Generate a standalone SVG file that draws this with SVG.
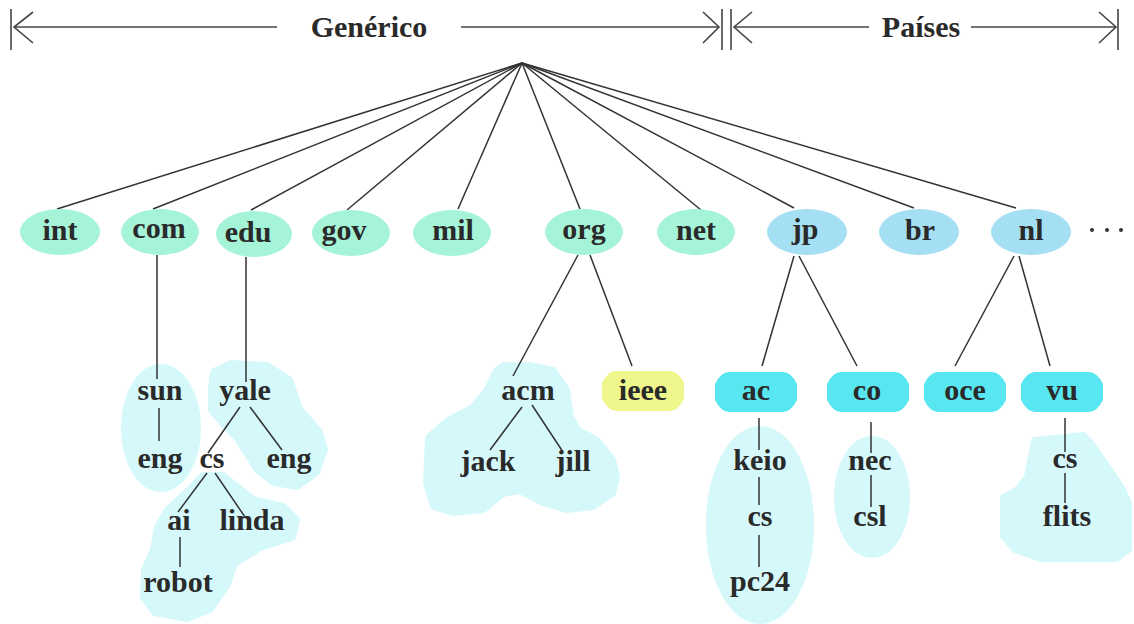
<svg xmlns="http://www.w3.org/2000/svg" xmlns:xlink="http://www.w3.org/1999/xlink" width="1134" height="624" viewBox="0 0 1134 624">
  <defs>
    <style>
      .lbl { font-family: "Liberation Serif", "Times New Roman", serif; font-weight: bold; font-size: 30px; fill: #2a2a2a; text-anchor: middle; }
      .edge { stroke: #333; stroke-width: 1.5; fill: none; }
      .bar { stroke: #444; stroke-width: 1.6; fill: none; }
      .gen { fill: #a6f4d8; }
      .ctry { fill: #a5dff3; }
      .sub { fill: #58e7f0; }
      .ieee { fill: #eef68c; }
      .zone { fill: #d5f9fb; stroke: #d5f9fb; stroke-width: 8; stroke-linejoin: round; }
    </style>
    <!-- rounded octagonal node outline, centred on the origin -->
    <path id="oct" d="M -27,-20 H 27 Q 35,-20 41,-8 V 8 Q 35,20 27,20 H -27 Q -35,20 -41,8 V -8 Q -35,-20 -27,-20 Z"/>
  </defs>

  <rect width="1134" height="624" fill="#ffffff"/>

  <!-- range header -->
  <g id="header">
    <line class="bar" x1="11" y1="9" x2="11" y2="50"/>
    <polyline class="bar" points="33,12 14,27 33,43"/>
    <line class="bar" x1="14" y1="27" x2="277" y2="27"/>
    <text class="lbl" x="369" y="37">Genérico</text>
    <line class="bar" x1="461" y1="27" x2="719" y2="27"/>
    <polyline class="bar" points="703,12 719,27 703,43"/>
    <line class="bar" x1="722" y1="9" x2="722" y2="50"/>
    <line class="bar" x1="731" y1="9" x2="731" y2="50"/>
    <polyline class="bar" points="752,12 734,27 752,43"/>
    <line class="bar" x1="734" y1="27" x2="869" y2="27"/>
    <text class="lbl" x="921" y="37">Países</text>
    <line class="bar" x1="971" y1="27" x2="1116" y2="27"/>
    <polyline class="bar" points="1099,12 1116,27 1099,43"/>
    <line class="bar" x1="1118" y1="9" x2="1118" y2="50"/>
  </g>

  <!-- shaded zones grouping lower-level names -->
  <g id="zones">
    <ellipse class="zone" cx="161" cy="428" rx="36" ry="60"/>
    <polygon class="zone" points="212,390 214,372 231,364 267,366 289,380 299,409 319,432 324,450 316,472 297,486 274,482 258,470 250,457 237,437 223,423 212,410"/>
    <polygon class="zone" points="203,476 223,476 253,500 283,507 296,520 292,537 260,547 234,563 227,584 210,609 187,618 155,612 144,597 145,570 154,550 158,527 168,510 190,490"/>
    <polygon class="zone" points="497,371 504,366 530,366 553,371 566,390 570,417 577,430 597,441 612,460 616,477 612,493 593,506 567,509 543,502 520,490 503,493 483,509 453,512 434,506 427,483 429,438 448,421 473,408 487,391"/>
    <ellipse class="zone" cx="760" cy="525" rx="50" ry="95"/>
    <ellipse class="zone" cx="872" cy="497" rx="34" ry="57"/>
    <polygon class="zone" points="1035,441 1083,436 1090,443 1109,470 1122,490 1128,503 1128,549 1116,558 1041,558 1015,549 1004,536 1004,498 1018,490 1028,477"/>
  </g>

  <!-- connectors -->
  <g id="edges">
    <!-- root fan -->
    <line class="edge" x1="522" y1="63" x2="57" y2="209"/>
    <line class="edge" x1="522" y1="63" x2="153" y2="209"/>
    <line class="edge" x1="522" y1="63" x2="251" y2="210"/>
    <line class="edge" x1="522" y1="63" x2="347" y2="210"/>
    <line class="edge" x1="522" y1="63" x2="458" y2="209"/>
    <line class="edge" x1="522" y1="63" x2="580" y2="209"/>
    <line class="edge" x1="522" y1="63" x2="701" y2="210"/>
    <line class="edge" x1="522" y1="63" x2="794" y2="208"/>
    <line class="edge" x1="522" y1="63" x2="914" y2="208"/>
    <line class="edge" x1="522" y1="63" x2="1016" y2="208"/>
    <!-- com / edu -->
    <line class="edge" x1="157" y1="255" x2="157" y2="379"/>
    <line class="edge" x1="159" y1="408" x2="159" y2="441"/>
    <line class="edge" x1="246" y1="257" x2="246" y2="382"/>
    <line class="edge" x1="240" y1="407" x2="208" y2="453"/>
    <line class="edge" x1="250" y1="407" x2="282" y2="450"/>
    <line class="edge" x1="207" y1="473" x2="178" y2="512"/>
    <line class="edge" x1="215" y1="473" x2="245" y2="517"/>
    <line class="edge" x1="180" y1="537" x2="180" y2="567"/>
    <!-- org -->
    <line class="edge" x1="578" y1="255" x2="513" y2="376"/>
    <line class="edge" x1="590" y1="255" x2="632" y2="366"/>
    <line class="edge" x1="522" y1="407" x2="490" y2="450"/>
    <line class="edge" x1="532" y1="405" x2="563" y2="452"/>
    <!-- jp -->
    <line class="edge" x1="794" y1="256" x2="762" y2="366"/>
    <line class="edge" x1="799" y1="256" x2="857" y2="366"/>
    <line class="edge" x1="759" y1="418" x2="759" y2="450"/>
    <line class="edge" x1="759" y1="477" x2="759" y2="505"/>
    <line class="edge" x1="759" y1="535" x2="759" y2="567"/>
    <line class="edge" x1="871" y1="422" x2="871" y2="453"/>
    <line class="edge" x1="871" y1="475" x2="871" y2="507"/>
    <!-- nl -->
    <line class="edge" x1="1014" y1="256" x2="955" y2="366"/>
    <line class="edge" x1="1019" y1="256" x2="1050" y2="366"/>
    <line class="edge" x1="1065" y1="418" x2="1065" y2="452"/>
    <line class="edge" x1="1065" y1="473" x2="1065" y2="503"/>
  </g>

  <!-- top-level domains -->
  <g id="n-int"><ellipse class="gen" cx="60" cy="232" rx="40" ry="23"/><text class="lbl" x="60" y="240">int</text></g>
  <g id="n-com"><ellipse class="gen" cx="160" cy="232" rx="39" ry="23"/><text class="lbl" x="159" y="238">com</text></g>
  <g id="n-edu"><ellipse class="gen" cx="254" cy="234" rx="38" ry="23"/><text class="lbl" x="248" y="242">edu</text></g>
  <g id="n-gov"><ellipse class="gen" cx="351" cy="233" rx="39" ry="23"/><text class="lbl" x="344" y="240">gov</text></g>
  <g id="n-mil"><ellipse class="gen" cx="452" cy="233" rx="39" ry="23"/><text class="lbl" x="453" y="240">mil</text></g>
  <g id="n-org"><ellipse class="gen" cx="584" cy="232" rx="39" ry="23"/><text class="lbl" x="584" y="239">org</text></g>
  <g id="n-net"><ellipse class="gen" cx="696" cy="232" rx="39" ry="23"/><text class="lbl" x="696" y="240">net</text></g>
  <g id="n-jp"><ellipse class="ctry" cx="807" cy="232" rx="40" ry="23"/><text class="lbl" x="805" y="239">jp</text></g>
  <g id="n-br"><ellipse class="ctry" cx="919" cy="232" rx="40" ry="23"/><text class="lbl" x="920" y="240">br</text></g>
  <g id="n-nl"><ellipse class="ctry" cx="1031" cy="232" rx="40" ry="23"/><text class="lbl" x="1031" y="240">nl</text></g>
  <g id="more">
    <circle cx="1092" cy="230" r="2" fill="#333"/>
    <circle cx="1107" cy="230" r="2" fill="#333"/>
    <circle cx="1121" cy="230" r="2" fill="#333"/>
  </g>

  <!-- second-level nodes -->
  <g id="n-ieee"><use xlink:href="#oct" class="ieee" x="643" y="391"/><text class="lbl" x="643" y="400">ieee</text></g>
  <g id="n-ac"><use xlink:href="#oct" class="sub" x="756" y="392"/><text class="lbl" x="756" y="400">ac</text></g>
  <g id="n-co"><use xlink:href="#oct" class="sub" x="868" y="392"/><text class="lbl" x="867" y="400">co</text></g>
  <g id="n-oce"><use xlink:href="#oct" class="sub" x="965" y="392"/><text class="lbl" x="965" y="400">oce</text></g>
  <g id="n-vu"><use xlink:href="#oct" class="sub" x="1062" y="392"/><text class="lbl" x="1062" y="400">vu</text></g>

  <!-- lower-level names -->
  <g id="n-sun"><text class="lbl" x="160" y="400">sun</text></g>
  <g id="n-sun-eng"><text class="lbl" x="160" y="468">eng</text></g>
  <g id="n-yale"><text class="lbl" x="245" y="400">yale</text></g>
  <g id="n-yale-cs"><text class="lbl" x="212" y="468">cs</text></g>
  <g id="n-yale-eng"><text class="lbl" x="289" y="468">eng</text></g>
  <g id="n-ai"><text class="lbl" x="179" y="530">ai</text></g>
  <g id="n-linda"><text class="lbl" x="252" y="530">linda</text></g>
  <g id="n-robot"><text class="lbl" x="178" y="592">robot</text></g>
  <g id="n-acm"><text class="lbl" x="528" y="400">acm</text></g>
  <g id="n-jack"><text class="lbl" x="488" y="471">jack</text></g>
  <g id="n-jill"><text class="lbl" x="573" y="471">jill</text></g>
  <g id="n-keio"><text class="lbl" x="760" y="470">keio</text></g>
  <g id="n-keio-cs"><text class="lbl" x="760" y="526">cs</text></g>
  <g id="n-pc24"><text class="lbl" x="760" y="591">pc24</text></g>
  <g id="n-nec"><text class="lbl" x="870" y="470">nec</text></g>
  <g id="n-csl"><text class="lbl" x="870" y="526">csl</text></g>
  <g id="n-vu-cs"><text class="lbl" x="1065" y="468">cs</text></g>
  <g id="n-flits"><text class="lbl" x="1067" y="526">flits</text></g>
</svg>
